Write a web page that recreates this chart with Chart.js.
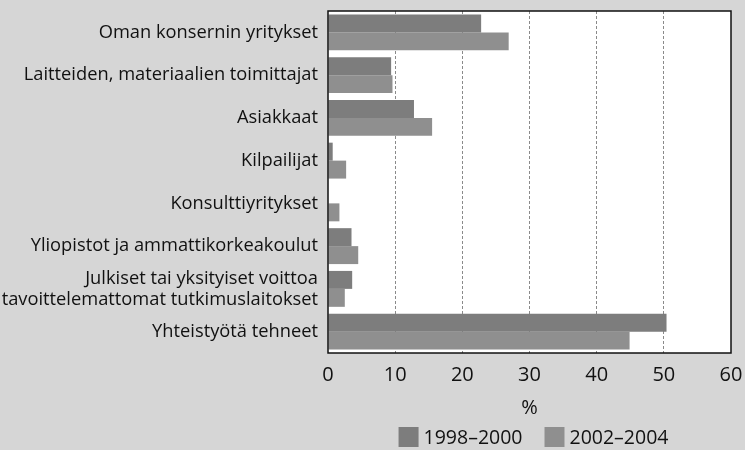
<!DOCTYPE html>
<html>
<head>
<meta charset="utf-8">
<script src="https://cdn.jsdelivr.net/npm/chart.js@4"></script>
<style>
  html, body { margin: 0; padding: 0; background: #d6d6d6; }
  #wrap { width: 745px; height: 450px; position: relative; }
</style>
</head>
<body>
<div id="wrap"><canvas id="chart"></canvas></div>
<script>
const categories = [
    'Oman konsernin yritykset',
    'Laitteiden, materiaalien toimittajat',
    'Asiakkaat',
    'Kilpailijat',
    'Konsulttiyritykset',
    'Yliopistot ja ammattikorkeakoulut',
    ['Julkiset tai yksityiset voittoa', 'tavoittelemattomat tutkimuslaitokset'],
    'Yhteistyötä tehneet'
];
const seriesLabels = ['1998–2000', '2002–2004'];
const values1998 = [22.8, 9.4, 12.8, 0.7, 0, 3.5, 3.6, 50.4];
const values2002 = [26.9, 9.6, 15.5, 2.7, 1.7, 4.5, 2.5, 44.9];
const xTicks = [0, 10, 20, 30, 40, 50, 60];

const FONT = '"Open Sans", sans-serif';
const colors = ['#7d7d7d', '#8f8f8f'];

// white plot background, black frame, legend centred under the plot
const framePlugin = {
    id: 'frame',
    beforeDraw(chart) {
        const { ctx, chartArea: a } = chart;
        ctx.save();
        ctx.fillStyle = '#ffffff';
        ctx.fillRect(a.left, a.top, a.width, a.height);
        ctx.restore();
    },
    afterDraw(chart) {
        const { ctx, chartArea: a } = chart;
        ctx.save();
        ctx.strokeStyle = '#111';
        ctx.lineWidth = 1.5;
        ctx.strokeRect(a.left, a.top, a.width, a.height);

        ctx.font = '19.5px ' + FONT;
        ctx.textBaseline = 'middle';
        const box = 20, gap = 5, space = 22;
        const widths = seriesLabels.map(t => ctx.measureText(t).width);
        const total = widths.reduce((s, w) => s + box + gap + w, 0) + space;
        let x = (a.left + a.right) / 2 - total / 2 + 4;
        const y = 437;
        seriesLabels.forEach((t, i) => {
            ctx.fillStyle = colors[i];
            ctx.fillRect(x, y - box / 2, box, box);
            x += box + gap;
            ctx.fillStyle = '#111';
            ctx.fillText(t, x, y + 1);
            x += widths[i] + space;
        });
        ctx.restore();
    }
};

new Chart(document.getElementById('chart'), {
    type: 'bar',
    data: {
        labels: categories,
        datasets: [
            { label: seriesLabels[0], data: values1998, backgroundColor: colors[0] },
            { label: seriesLabels[1], data: values2002, backgroundColor: colors[1] }
        ]
    },
    options: {
        indexAxis: 'y',
        responsive: true,
        maintainAspectRatio: false,
        animation: false,
        categoryPercentage: 0.84,
        barPercentage: 1,
        layout: { autoPadding: false, padding: { top: 11, right: 14, bottom: 30, left: 0 } },
        plugins: {
            legend: { display: false },
            tooltip: { enabled: false }
        },
        scales: {
            x: {
                min: 0,
                max: 60,
                afterBuildTicks: axis => { axis.ticks = xTicks.map(v => ({ value: v })); },
                afterFit: axis => {
                    axis.height = 67;
                    axis.paddingLeft = 0;
                    axis.paddingRight = 0;
                },
                grid: {
                    color: ctx => (ctx.tick.value === 0 || ctx.tick.value === 60) ? 'rgba(0,0,0,0)' : '#8a8a8a',
                    drawTicks: false
                },
                border: { display: false, dash: [3, 2] },
                ticks: { color: '#111', font: { family: FONT, size: 20 }, padding: 10 },
                title: { display: true, text: '%', color: '#111', font: { family: FONT, size: 20 }, padding: { top: 9, bottom: 0 } }
            },
            y: {
                afterFit: axis => {
                    axis.width = 328;
                    axis.paddingTop = 0;
                    axis.paddingBottom = 0;
                },
                grid: { display: false, drawTicks: false },
                border: { display: false },
                ticks: { color: '#111', font: { family: FONT, size: 18.3, lineHeight: 1.15 }, padding: 10, autoSkip: false }
            }
        }
    },
    plugins: [framePlugin]
});
</script>
</body>
</html>
